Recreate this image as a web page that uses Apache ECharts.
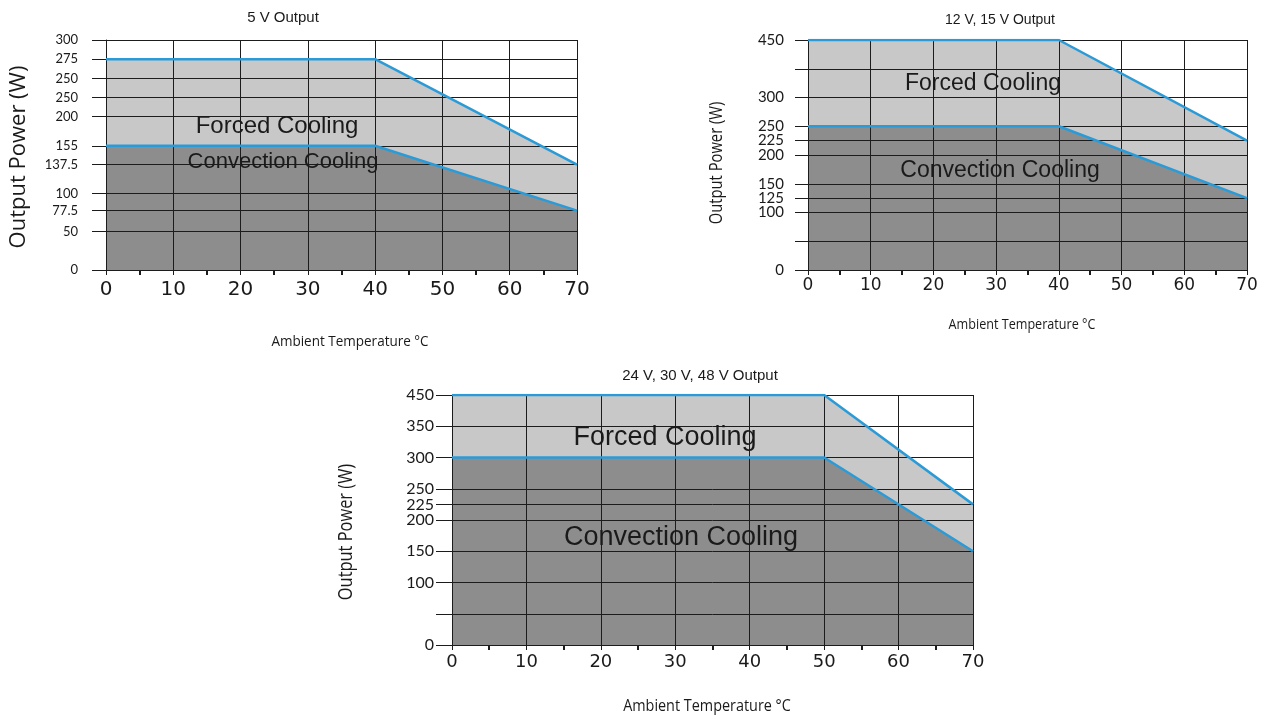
<!DOCTYPE html>
<html>
<head>
<meta charset="utf-8">
<title>Output derating curves</title>
<script src="https://cdn.jsdelivr.net/npm/echarts@6/dist/echarts.min.js"></script>
<style>
  html, body { margin: 0; padding: 0; background: #fff; }
  #main { width: 1264px; height: 719px; }
</style>
</head>
<body>
<div id="main"></div>
<script>
// 5 V output
var forcedT1 = [0, 40, 70];
var forcedP1 = [275, 275, 137.5];
var convT1 = [0, 40, 70];
var convP1 = [155, 155, 77.5];
var yTicks1 = [0, 50, 77.5, 100, 137.5, 155, 200, 225, 250, 275, 300];
var yLabels1 = ['0', '50', '77.5', '100', '137.5', '155', '200', '250', '250', '275', '300'];

// 12 V, 15 V output
var forcedT2 = [0, 40, 70];
var forcedP2 = [450, 450, 225];
var convT2 = [0, 40, 70];
var convP2 = [250, 250, 125];
var yTicks2 = [0, 50, 100, 125, 150, 200, 225, 250, 300, 375, 450];
var yLabels2 = ['0', '', '100', '125', '150', '200', '225', '250', '300', '', '450'];

// 24 V, 30 V, 48 V output
var forcedT3 = [0, 50, 70];
var forcedP3 = [450, 450, 225];
var convT3 = [0, 50, 70];
var convP3 = [300, 300, 150];
var yTicks3 = [0, 50, 100, 150, 200, 225, 250, 300, 350, 450];
var yLabels3 = ['0', '', '100', '150', '200', '225', '250', '300', '350', '450'];

// the datasheet plots are not drawn to scale, so each y axis
// is piecewise linear: [watts, axis units]
function makeScale(breaks) {
  return function (v) {
    for (var i = 1; i < breaks.length; i++) {
      var a = breaks[i - 1], b = breaks[i];
      if (v <= b[0] || i == breaks.length - 1) {
        return a[1] + (v - a[0]) * (b[1] - a[1]) / (b[0] - a[0]);
      }
    }
  };
}
var scales = [
  makeScale([[0, 0], [137.5, 137.5], [155, 162], [200, 200], [300, 300]]),
  makeScale([[0, 0], [300, 12], [450, 16]]),
  makeScale([[0, 0], [350, 7], [450, 8]])
];

var blue = '#2b9bd7';
var lightGray = '#c8c8c8';
var darkGray = '#8d8d8d';
var gridColor = '#1c1c1c';

var charts = [
  { ft: forcedT1, fp: forcedP1, ct: convT1, cp: convP1, ticks: yTicks1, labels: yLabels1,
    grid: { left: 106, top: 40, width: 471, height: 230 }, xFont: 20, xMargin: 10, yFont: 13, yMargin: 28, tickLen: 14 },
  { ft: forcedT2, fp: forcedP2, ct: convT2, cp: convP2, ticks: yTicks2, labels: yLabels2,
    grid: { left: 808, top: 40, width: 439, height: 230 }, xFont: 17, xMargin: 7, yFont: 15, yMargin: 24, tickLen: 13 },
  { ft: forcedT3, fp: forcedP3, ct: convT3, cp: convP3, ticks: yTicks3, labels: yLabels3,
    grid: { left: 452, top: 395, width: 521, height: 250 }, xFont: 18, xMargin: 8, yFont: 16, yMargin: 18, tickLen: 16 }
];

var grids = [], xAxes = [], yAxes = [], series = [];

charts.forEach(function (c, i) {
  var map = scales[i];
  var mapped = c.ticks.map(map);
  var labelled = mapped.filter(function (v, k) { return c.labels[k] !== ''; });

  grids.push(c.grid);

  xAxes.push({
    type: 'value', gridIndex: i, min: 0, max: 70, interval: 10,
    axisLine: { show: true, lineStyle: { color: gridColor, width: 1 } },
    axisTick: { show: true, length: 5, lineStyle: { color: gridColor } },
    minorTick: { show: true, splitNumber: 2, length: 5, lineStyle: { color: gridColor, width: 2 } },
    axisLabel: { color: '#1a1a1a', fontFamily: 'DejaVu Sans', fontSize: c.xFont, margin: c.xMargin },
    splitLine: { show: true, lineStyle: { color: gridColor, width: 1 } }
  });

  yAxes.push({
    type: 'value', gridIndex: i, min: 0, max: mapped[mapped.length - 1],
    axisLine: { show: true, lineStyle: { color: gridColor, width: 1 } },
    axisTick: { show: true, length: c.tickLen, customValues: mapped, lineStyle: { color: gridColor } },
    axisLabel: {
      customValues: labelled, color: '#1a1a1a', fontFamily: 'Lato', fontSize: c.yFont, margin: c.yMargin,
      formatter: function (v) {
        for (var k = 0; k < mapped.length; k++) {
          if (Math.abs(mapped[k] - v) < 1e-6) return c.labels[k];
        }
        return '';
      }
    },
    splitLine: { show: true, lineStyle: { color: gridColor, width: 1 } }
  });

  var fData = c.ft.map(function (t, k) { return [t, map(c.fp[k])]; });
  var cData = c.ct.map(function (t, k) { return [t, map(c.cp[k])]; });

  // fills sit under the grid lines, blue curves on top
  series.push({
    type: 'line', name: 'Forced Cooling', xAxisIndex: i, yAxisIndex: i, data: fData,
    symbol: 'none', silent: true, z: -2,
    lineStyle: { width: 0 }, areaStyle: { color: lightGray, opacity: 1 }
  });
  series.push({
    type: 'line', name: 'Convection Cooling', xAxisIndex: i, yAxisIndex: i, data: cData,
    symbol: 'none', silent: true, z: -1,
    lineStyle: { width: 0 }, areaStyle: { color: darkGray, opacity: 1 }
  });
  series.push({
    type: 'line', xAxisIndex: i, yAxisIndex: i, data: fData, symbol: 'none', silent: true, z: 5,
    lineStyle: { color: blue, width: 2.5 }
  });
  series.push({
    type: 'line', xAxisIndex: i, yAxisIndex: i, data: cData, symbol: 'none', silent: true, z: 5,
    lineStyle: { color: blue, width: 2.5 }
  });
});

function txt(s, x, y, font, rot, sx) {
  return {
    type: 'text', x: x, y: y, rotation: rot || 0, scaleX: sx || 1, z: 10, silent: true,
    style: {
      text: s, font: font, fill: '#1a1a1a',
      align: 'center', verticalAlign: 'middle', textAlign: 'center', textVerticalAlign: 'middle'
    }
  };
}
var arial = '"Liberation Sans", Arial, sans-serif';
var calib = '"Open Sans", sans-serif';

var myChart = echarts.init(document.getElementById('main'), null, { renderer: 'canvas' });
myChart.setOption({
  animation: false,
  grid: grids,
  xAxis: xAxes,
  yAxis: yAxes,
  series: series,
  graphic: { elements: [
    txt('5 V Output', 283, 18, '15px ' + arial),
    txt('12 V, 15 V Output', 1000, 20, '14px ' + arial),
    txt('24 V, 30 V, 48 V Output', 700, 376, '15px ' + arial),

    txt('Forced Cooling', 277, 126, '24px ' + arial),
    txt('Convection Cooling', 283, 162, '22px ' + arial),
    txt('Forced Cooling', 983, 84, '23px ' + arial),
    txt('Convection Cooling', 1000, 171, '23px ' + arial),
    txt('Forced Cooling', 665, 438, '27px ' + arial),
    txt('Convection Cooling', 681, 538, '27px ' + arial),

    txt('Output Power (W)', 19, 157, '22px ' + calib, Math.PI / 2),
    txt('Output Power (W)', 717, 163, '18px ' + calib, Math.PI / 2, 0.82),
    txt('Output Power (W)', 346, 532, '20px ' + calib, Math.PI / 2, 0.82),

    txt('Ambient Temperature °C', 350, 342, '15px ' + calib, 0, 0.9),
    txt('Ambient Temperature °C', 1022, 325, '14px ' + calib, 0, 0.9),
    txt('Ambient Temperature °C', 707, 706, '16px ' + calib, 0, 0.9)
  ] }
});
</script>
</body>
</html>
